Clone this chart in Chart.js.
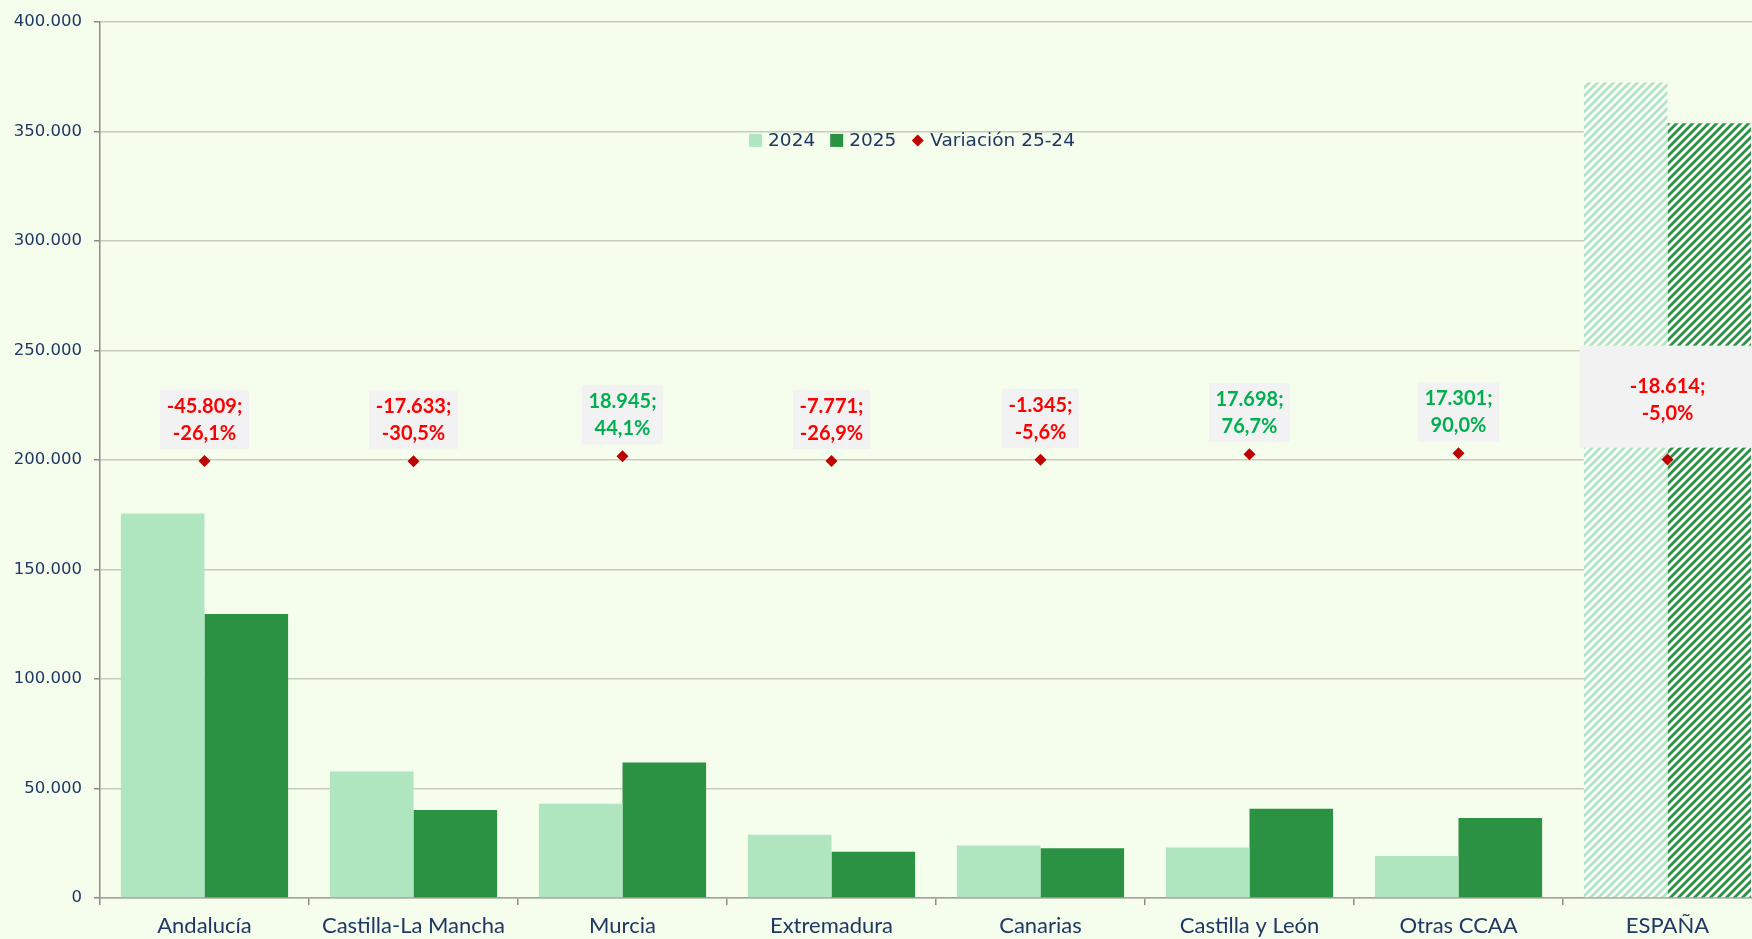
<!DOCTYPE html>
<html lang="es">
<head>
<meta charset="utf-8">
<title>2024 vs 2025 por comunidad autónoma</title>
<script src="https://cdn.jsdelivr.net/npm/chart.js@4/dist/chart.umd.min.js"></script>
<style>
  html, body { margin: 0; padding: 0; background: #f5fded; overflow: hidden; }
  #wrap { position: relative; width: 1778px; height: 939px; }
</style>
</head>
<body>
<div id="wrap"><canvas id="chart"></canvas></div>
<script>
// datos
const categorias = ['Andalucía', 'Castilla-La Mancha', 'Murcia', 'Extremadura', 'Canarias', 'Castilla y León', 'Otras CCAA', 'ESPAÑA'];
const valores2024 = [175500, 57800, 43000, 28900, 24000, 23100, 19200, 372300];
const valores2025 = [129700, 40200, 61900, 21100, 22700, 40800, 36500, 353700];
const variacion = [-45809, -17633, 18945, -7771, -1345, 17698, 17301, -18614];
const variacionPct = [-26.1, -30.5, 44.1, -26.9, -5.6, 76.7, 90.0, -5.0];
const ticksY = [0, 50000, 100000, 150000, 200000, 250000, 300000, 350000, 400000];

const AZUL = '#1f3864';
const VERDE_CLARO = '#afe6bf';
const VERDE = '#2b9243';

function miles(n) {
  const s = Math.abs(Math.round(n)).toString().replace(/\B(?=(\d{3})+(?!\d))/g, '.');
  return (n < 0 ? '-' : '') + s;
}
function pct(n) {
  return n.toFixed(1).replace('.', ',') + '%';
}

// relleno rayado para la barra de ESPAÑA
function rayado(color) {
  const t = document.createElement('canvas');
  t.width = 8; t.height = 8;
  const c = t.getContext('2d');
  c.fillStyle = '#ffffff';
  c.fillRect(0, 0, 8, 8);
  c.strokeStyle = color;
  c.lineWidth = 2.8;
  c.beginPath();
  c.moveTo(-2, 10); c.lineTo(10, -2);
  c.moveTo(-2, 2); c.lineTo(2, -2);
  c.moveTo(6, 10); c.lineTo(10, 6);
  c.stroke();
  return c.createPattern(t, 'repeat');
}

const ultima = categorias.length - 1;
const fondo2024 = categorias.map((_, i) => i === ultima ? rayado(VERDE_CLARO) : VERDE_CLARO);
const fondo2025 = categorias.map((_, i) => i === ultima ? rayado(VERDE) : VERDE);

// leyenda dentro del área del gráfico
const leyenda = {
  id: 'leyenda',
  afterDraw(chart) {
    const ctx = chart.ctx;
    const area = chart.chartArea;
    const items = [
      { txt: chart.data.datasets[0].label, tipo: 'cuadro', color: VERDE_CLARO },
      { txt: chart.data.datasets[1].label, tipo: 'cuadro', color: VERDE },
      { txt: chart.data.datasets[2].label, tipo: 'rombo', color: '#c00000' }
    ];
    ctx.save();
    ctx.font = '18.5px "DejaVu Sans"';
    ctx.textBaseline = 'middle';
    const anchos = items.map(it => 13 + 6 + ctx.measureText(it.txt).width);
    const total = anchos.reduce((a, b) => a + b, 0) + 15 * (items.length - 1);
    let x = (area.left + area.right) / 2 - 24 - total / 2;
    const y = area.top + 118.5;
    items.forEach((it, i) => {
      ctx.fillStyle = it.color;
      if (it.tipo === 'cuadro') {
        ctx.fillRect(x, y - 6.5, 13, 13);
      } else {
        ctx.beginPath();
        ctx.moveTo(x + 0.5, y); ctx.lineTo(x + 6.5, y - 6); ctx.lineTo(x + 12.5, y); ctx.lineTo(x + 6.5, y + 6);
        ctx.closePath(); ctx.fill();
      }
      ctx.fillStyle = AZUL;
      ctx.fillText(it.txt, x + 19, y + 1);
      x += anchos[i] + 15;
    });
    ctx.restore();
  }
};

// etiquetas de la variación
const etiquetas = {
  id: 'etiquetas',
  afterDatasetsDraw(chart) {
    const ctx = chart.ctx;
    const meta = chart.getDatasetMeta(2);
    const anchoCat = chart.scales.x.width / categorias.length;
    ctx.save();
    ctx.font = 'bold 20px Lato';
    ctx.textAlign = 'center';
    ctx.textBaseline = 'middle';
    meta.data.forEach((pt, i) => {
      const l1 = miles(variacion[i]) + ';';
      const l2 = pct(variacionPct[i]);
      let w, h, off;
      if (i === ultima) {
        w = anchoCat * 0.84; h = 102; off = 3;
      } else {
        w = Math.max(ctx.measureText(l1).width, ctx.measureText(l2).width) + 13; h = 59; off = 0;
      }
      const abajo = pt.y - 12;
      const cy = abajo - h / 2 + off;
      ctx.fillStyle = '#f2f2f2';
      ctx.fillRect(pt.x - w / 2, abajo - h, w, h);
      ctx.fillStyle = variacion[i] < 0 ? '#ff0000' : '#00b050';
      ctx.fillText(l1, pt.x, cy - 13);
      ctx.fillText(l2, pt.x, cy + 14);
    });
    ctx.restore();
  }
};

new Chart(document.getElementById('chart'), {
  type: 'bar',
  data: {
    labels: categorias,
    datasets: [
      { label: '2024', data: valores2024, backgroundColor: fondo2024, borderWidth: 0, order: 1 },
      { label: '2025', data: valores2025, backgroundColor: fondo2025, borderWidth: 0, order: 1 },
      {
        type: 'line', label: 'Variación 25-24', data: variacionPct, yAxisID: 'y1',
        showLine: false, pointStyle: 'rectRot', pointRadius: 6, pointHoverRadius: 6,
        backgroundColor: '#c00000', borderColor: '#c00000', borderWidth: 0, order: 0
      }
    ]
  },
  options: {
    responsive: true,
    maintainAspectRatio: false,
    animation: false,
    categoryPercentage: 0.8,
    barPercentage: 1.0,
    layout: { padding: { top: 15, right: 3, left: 0, bottom: 0 } },
    plugins: { legend: { display: false }, tooltip: { enabled: false } },
    scales: {
      x: {
        offset: true,
        grid: { offset: true, drawOnChartArea: false, drawTicks: true, tickLength: 7, color: '#8c8c8c', lineWidth: 1.5 },
        border: { color: '#a0a0a0', width: 1.5 },
        ticks: { color: AZUL, font: { family: 'Lato', size: 22 }, padding: 8, maxRotation: 0, autoSkip: false },
        afterFit(s) { s.height = 41; }
      },
      y: {
        min: 0, max: 400000,
        afterBuildTicks(s) { s.ticks = ticksY.map(v => ({ value: v })); },
        grid: { color: '#c9cbb9', lineWidth: 1.5, tickLength: 6, tickColor: '#8c8c8c' },
        border: { color: '#8c8c8c', width: 1.5 },
        ticks: { color: AZUL, font: { family: 'DejaVu Sans', size: 16.5 }, padding: 12, callback: v => miles(v) },
        afterFit(s) { s.width = 100; }
      },
      y1: { display: false, min: -6600, max: 6580 }
    }
  },
  plugins: [leyenda, etiquetas]
});
</script>
</body>
</html>
